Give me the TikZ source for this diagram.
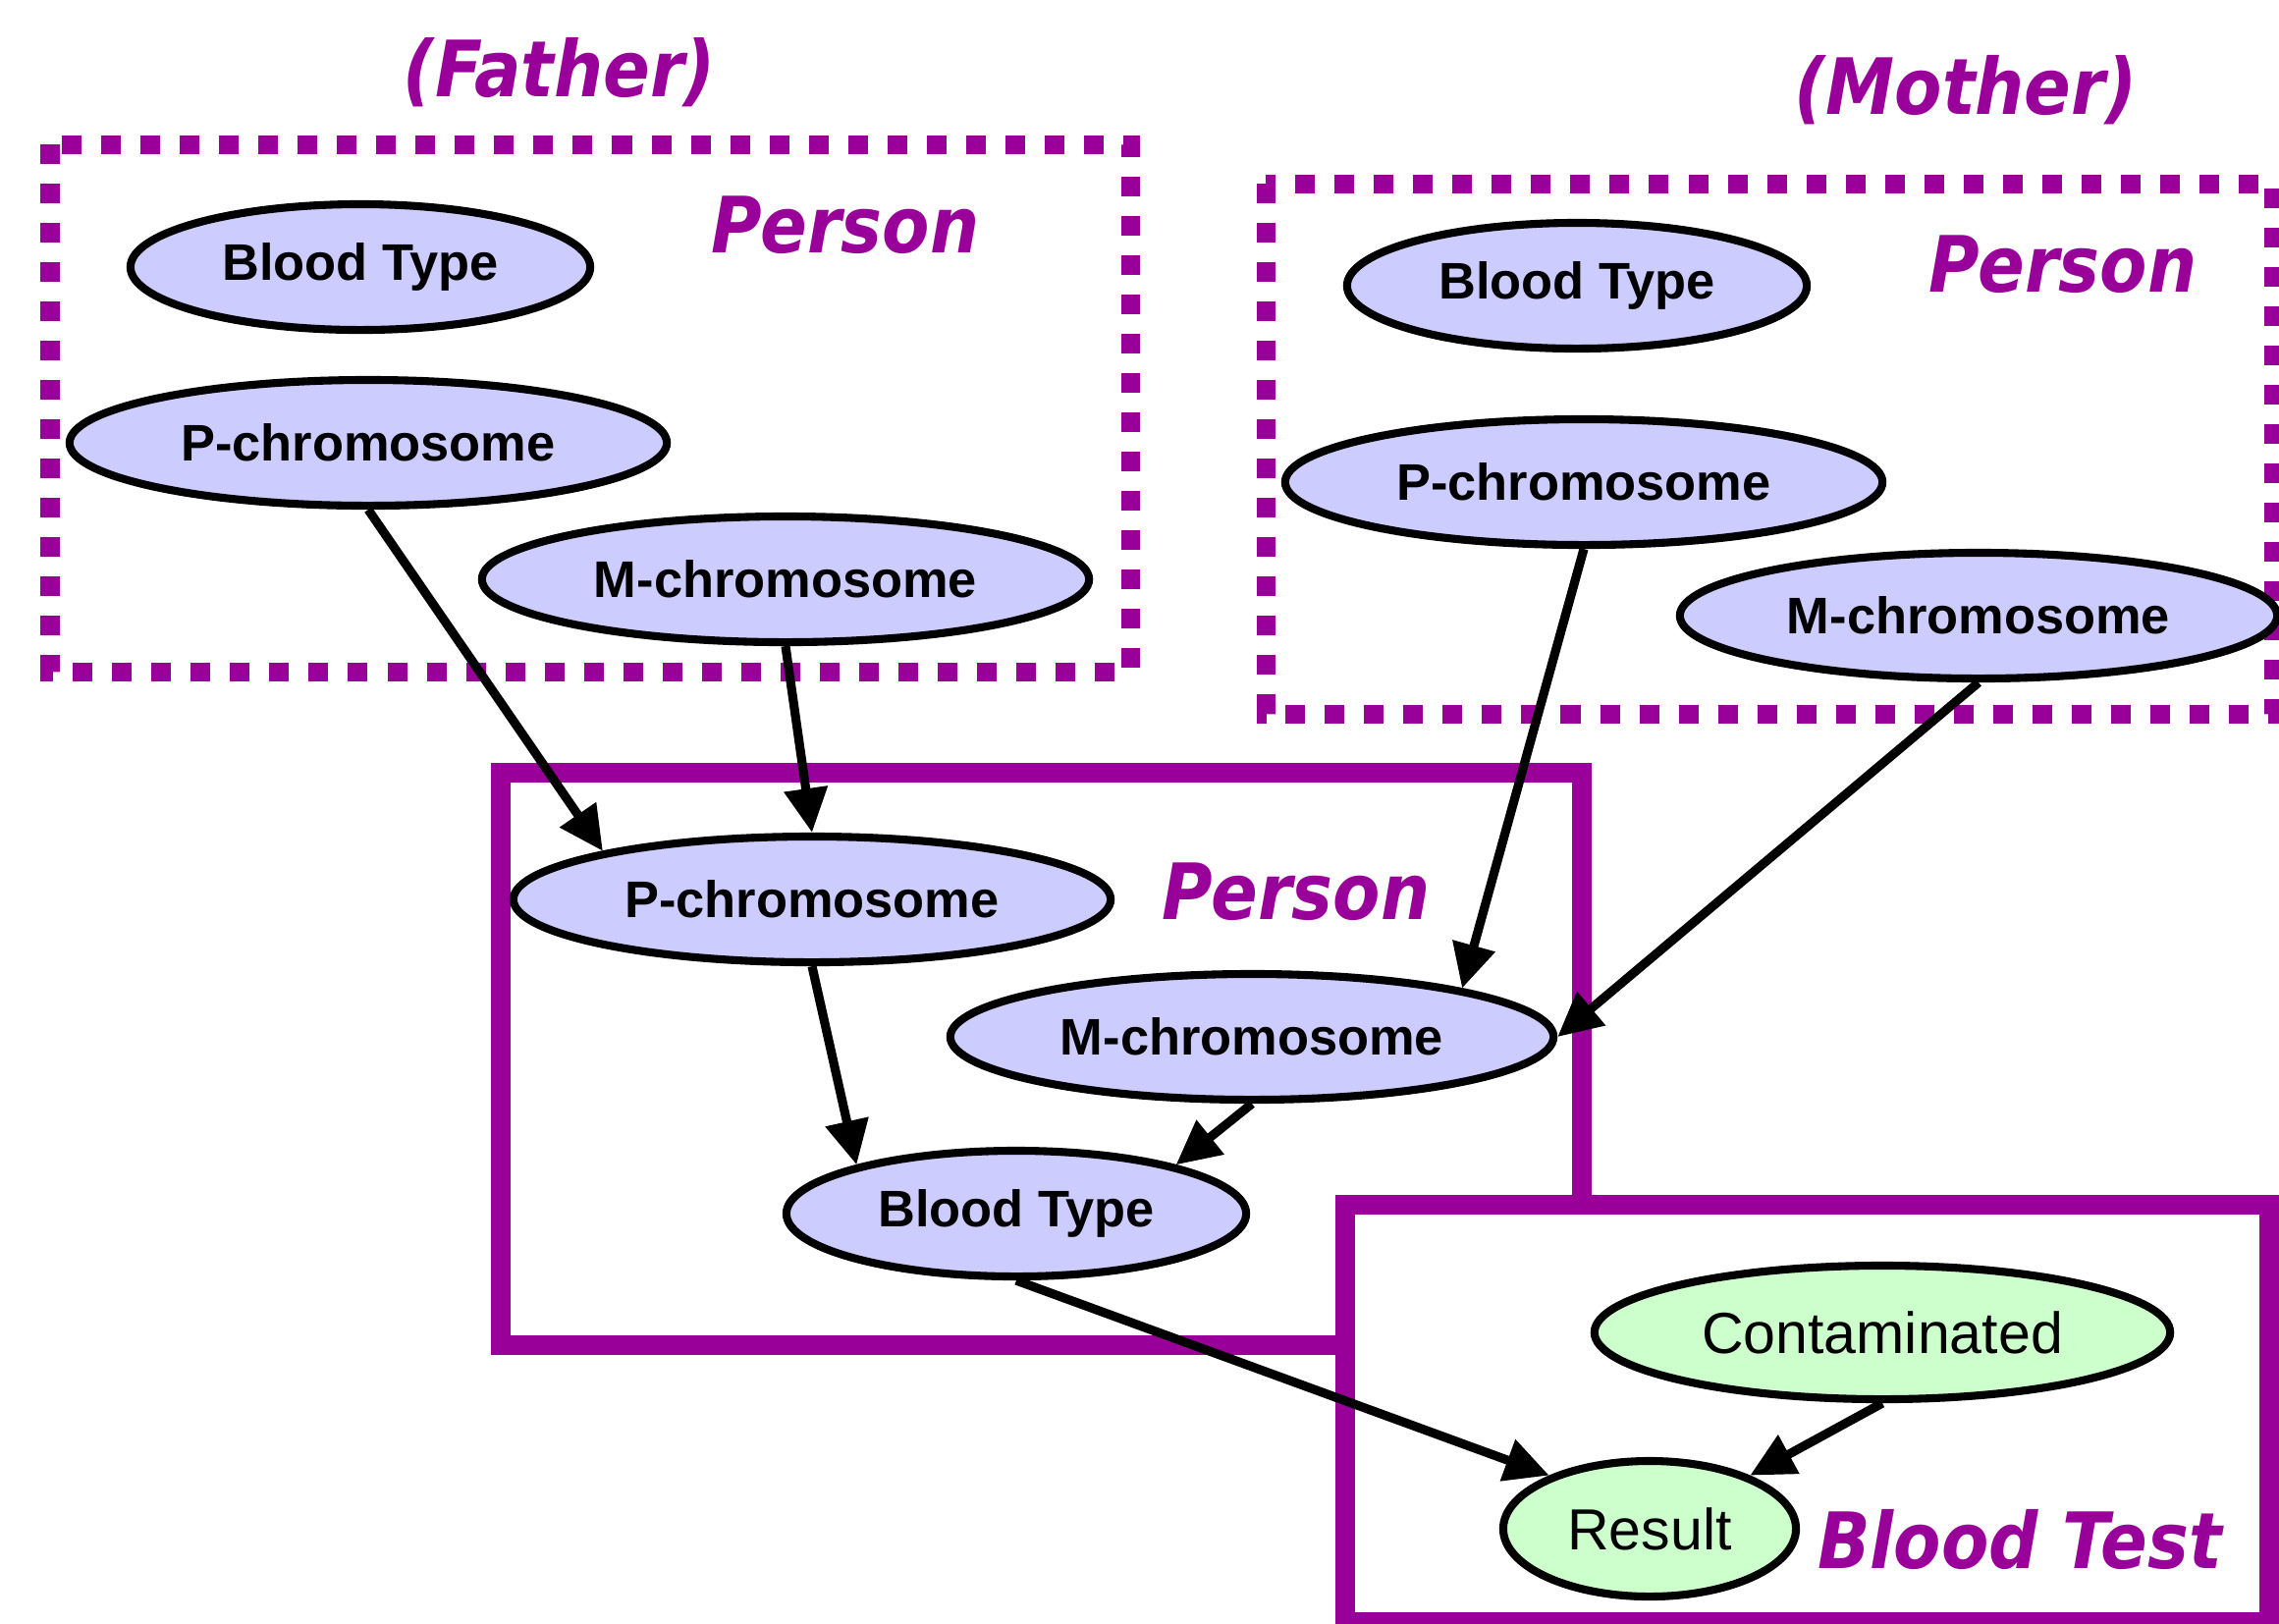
\documentclass[tikz,border=0pt]{standalone}
\usepackage{fontspec}
\setmainfont{Liberation Sans}
\newfontfamily\platefont[FakeStretch=0.89]{DejaVu Sans}
\usetikzlibrary{shapes.geometric,arrows.meta}

\definecolor{plate}{HTML}{990099}
\definecolor{lav}{HTML}{CCCCFF}
\definecolor{mint}{HTML}{CCFFCC}

\tikzset{
  var/.style={ellipse, draw=black, line width=2.3pt, fill=lav, inner sep=0pt,
    minimum height=1.28cm, font=\fontsize{14.9}{17}\selectfont\bfseries},
  obs/.style={ellipse, draw=black, line width=2.3pt, fill=mint, inner sep=0pt,
    minimum height=1.36cm, font=\fontsize{16.8}{19}\selectfont},
  wide/.style={minimum width=6.08cm},
  narrow/.style={minimum width=4.68cm},
  dottedplate/.style={draw=plate, line width=0.19cm, dash pattern=on 0.2cm off 0.2cm},
  solidplate/.style={draw=plate, line width=0.205cm},
  platelabel/.style={anchor=base, text=plate, inner sep=0pt,
    font=\platefont\fontsize{22.5}{26}\selectfont\bfseries\itshape},
  arr/.style={line width=2.6pt, -{Triangle[length=12.8pt,width=12.2pt]}},
}

\begin{document}
\begin{tikzpicture}[x=0.01cm, y=-0.01cm]
  \useasboundingbox (0,0) rectangle (2321,1653);

  % plates
  \draw[dottedplate] (51,147) rectangle (1151,684);
  \draw[dottedplate] (1289,187) rectangle (2315,727);
  \draw[solidplate] (510,787) rectangle (1611,1370);
  \draw[solidplate, fill=white] (1370,1227) rectangle (2311,1652);

  % plate labels
  \node[platelabel] (lfather) at (570,98) {(Father)};
  \node[platelabel] (lmother) at (2002,116) {(Mother)};
  \node[platelabel] (lpf) at (861,257) {Person};
  \node[platelabel] (lpm) at (2101,297) {Person};
  \node[platelabel] (lpc) at (1320,936) {Person};
  \node[platelabel] (lbt) at (2057,1597) {Blood Test};

  % father
  \node[var, narrow] (fB) at (367,272) {Blood Type};
  \node[var, wide] (fP) at (375,451) {P-chromosome};
  \node[var, wide, minimum width=6.18cm] (fM) at (800,590) {M-chromosome};

  % mother
  \node[var, narrow] (mB) at (1606,291) {Blood Type};
  \node[var, wide] (mP) at (1613,491) {P-chromosome};
  \node[var, wide] (mM) at (2015,627) {M-chromosome};

  % child
  \node[var, wide] (cP) at (827,916) {P-chromosome};
  \node[var, wide, minimum width=6.14cm] (cM) at (1275,1056) {M-chromosome};
  \node[var, narrow] (cB) at (1035,1236) {Blood Type};

  % blood test
  \node[obs, minimum width=5.86cm] (cont) at (1917,1357) {Contaminated};
  \node[obs, minimum width=2.98cm, minimum height=1.38cm] (res) at (1680,1557) {Result};

  % dependencies
  \draw[arr] (fP.south) -- (cP.167);
  \draw[arr] (fM.south) -- (cP.north);
  \draw[arr] (mP.south) -- (cM.13);
  \draw[arr] (mM.south) -- (cM.east);
  \draw[arr] (cP.south) -- (cB.163);
  \draw[arr] (cM.south) -- (cB.17);
  \draw[arr] (cB.south) -- (res.152);
  \draw[arr] (cont.south) -- (res.28);
\end{tikzpicture}
\end{document}
